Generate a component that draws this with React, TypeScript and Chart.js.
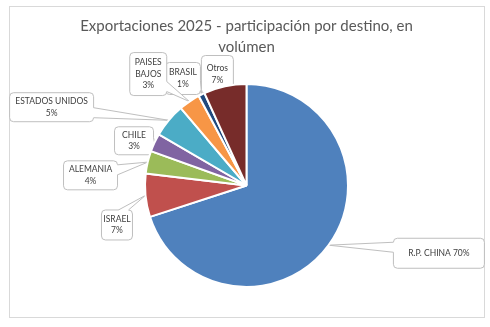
import { useEffect, useRef } from "react";
import { Chart, registerables } from "chart.js";

Chart.register(...registerables);

// ---- data ----
const categories = [
  "R.P. CHINA",
  "ISRAEL",
  "ALEMANIA",
  "CHILE",
  "ESTADOS UNIDOS",
  "PAISES BAJOS",
  "BRASIL",
  "Otros",
];
const shares = [70.0, 6.9, 3.6, 2.9, 5.4, 3.4, 1.0, 6.8];
// label text lines, {p} is replaced by the rounded share
const labelLines = [
  ["R.P. CHINA {p}"],
  ["ISRAEL", "{p}"],
  ["ALEMANIA", "{p}"],
  ["CHILE", "{p}"],
  ["ESTADOS UNIDOS", "{p}"],
  ["PAISES", "BAJOS", "{p}"],
  ["BRASIL", "{p}"],
  ["Otros", "{p}"],
];
const titleLines = ["Exportaciones 2025 - participación por destino, en", "volúmen"];

// ---- styles / layout ----
const sliceColors = [
  "#4F81BD",
  "#C0504D",
  "#9BBB59",
  "#8064A2",
  "#4BACC6",
  "#F79646",
  "#1F497D",
  "#772C2A",
];
// callout box offset from slice edge midpoint (dx, dy) and box size (w, h)
const labelLayout = [
  { dx: 110.3, dy: 8.1, w: 91, h: 30 },
  { dx: -28.5, dy: 29.6, w: 31, h: 30 },
  { dx: -57.2, dy: 13.2, w: 54, h: 29 },
  { dx: -20.5, dy: -1.8, w: 39, h: 28 },
  { dx: -117.1, dy: -13.1, w: 84, h: 29 },
  { dx: -41.2, dy: -27.5, w: 37, h: 43 },
  { dx: -18.6, dy: -16, w: 35, h: 32 },
  { dx: -7.6, dy: -11.8, w: 32, h: 38 },
];
const FONT = "Lato, 'Open Sans', sans-serif";

function roundRectPath(ctx: CanvasRenderingContext2D, x: number, y: number, w: number, h: number, r: number) {
  ctx.beginPath();
  ctx.moveTo(x + r, y);
  ctx.lineTo(x + w - r, y);
  ctx.quadraticCurveTo(x + w, y, x + w, y + r);
  ctx.lineTo(x + w, y + h - r);
  ctx.quadraticCurveTo(x + w, y + h, x + w - r, y + h);
  ctx.lineTo(x + r, y + h);
  ctx.quadraticCurveTo(x, y + h, x, y + h - r);
  ctx.lineTo(x, y + r);
  ctx.quadraticCurveTo(x, y, x + r, y);
  ctx.closePath();
}

const framePlugin = {
  id: "frame",
  beforeDraw(chart: any) {
    const ctx = chart.ctx as CanvasRenderingContext2D;
    ctx.save();
    ctx.fillStyle = "#FFFFFF";
    ctx.fillRect(0, 0, chart.width, chart.height);
    ctx.strokeStyle = "#D9D9D9";
    ctx.lineWidth = 1;
    ctx.strokeRect(9.5, 6.5, chart.width - 15, chart.height - 16);
    ctx.restore();
  },
};

const calloutPlugin = {
  id: "callouts",
  beforeDatasetsDraw(chart: any) {
    const ctx = chart.ctx as CanvasRenderingContext2D;
    const meta = chart.getDatasetMeta(0);
    const values = chart.data.datasets[0].data as number[];
    const n = meta.data.length;
    ctx.save();
    for (let i = n - 1; i >= 0; i--) {
      const arc = meta.data[i];
      const p = arc.getProps(["x", "y", "startAngle", "endAngle", "outerRadius"], true);
      const mid = (p.startAngle + p.endAngle) / 2;
      const ax = p.x + Math.cos(mid) * p.outerRadius;
      const ay = p.y + Math.sin(mid) * p.outerRadius;
      const L = labelLayout[i];
      const cx = ax + L.dx;
      const cy = ay + L.dy;
      const bx = cx - L.w / 2;
      const by = cy - L.h / 2;
      const r = 4;

      // box
      roundRectPath(ctx, bx, by, L.w, L.h, r);
      ctx.fillStyle = "#FFFFFF";
      ctx.fill();
      ctx.strokeStyle = "#BFBFBF";
      ctx.lineWidth = 1;
      ctx.stroke();

      // wedge pointer
      const dxOut = ax < bx ? bx - ax : ax > bx + L.w ? ax - (bx + L.w) : 0;
      const dyOut = ay < by ? by - ay : ay > by + L.h ? ay - (by + L.h) : 0;
      if (dxOut > 0 || dyOut > 0) {
        const hw = 5;
        let b1x: number, b1y: number, b2x: number, b2y: number, i1x: number, i1y: number, i2x: number, i2y: number;
        if (dxOut >= dyOut) {
          const ex = ax < bx ? bx : bx + L.w;
          const inward = ax < bx ? 1.5 : -1.5;
          const yc = Math.min(Math.max(ay, by + r + hw), by + L.h - r - hw);
          b1x = ex; b1y = yc - hw; b2x = ex; b2y = yc + hw;
          i1x = ex + inward; i1y = b1y; i2x = ex + inward; i2y = b2y;
        } else {
          const ey = ay < by ? by : by + L.h;
          const inward = ay < by ? 1.5 : -1.5;
          const xc = Math.min(Math.max(ax, bx + r + hw), bx + L.w - r - hw);
          b1x = xc - hw; b1y = ey; b2x = xc + hw; b2y = ey;
          i1x = b1x; i1y = ey + inward; i2x = b2x; i2y = ey + inward;
        }
        ctx.beginPath();
        ctx.moveTo(i1x, i1y);
        ctx.lineTo(b1x, b1y);
        ctx.lineTo(ax, ay);
        ctx.lineTo(b2x, b2y);
        ctx.lineTo(i2x, i2y);
        ctx.closePath();
        ctx.fillStyle = "#FFFFFF";
        ctx.fill();
        ctx.beginPath();
        ctx.moveTo(b1x, b1y);
        ctx.lineTo(ax, ay);
        ctx.lineTo(b2x, b2y);
        ctx.strokeStyle = "#BFBFBF";
        ctx.stroke();
      }

      // text
      const pct = Math.round(values[i]) + "%";
      const lines = labelLines[i].map((s) => s.replace("{p}", pct));
      const lh = 11.5;
      ctx.fillStyle = "#404040";
      ctx.font = `8.5px ${FONT}`;
      ctx.textAlign = "center";
      ctx.textBaseline = "middle";
      lines.forEach((t, k) => {
        ctx.fillText(t, cx, cy - ((lines.length - 1) * lh) / 2 + k * lh);
      });
    }
    ctx.restore();
  },
};

export default function App() {
  const ref = useRef<HTMLCanvasElement | null>(null);
  useEffect(() => {
    document.body.style.margin = "0";
    const canvas = ref.current;
    if (!canvas) return;
    const chart = new Chart(canvas, {
      type: "pie",
      data: {
        labels: categories,
        datasets: [
          {
            data: shares,
            backgroundColor: sliceColors,
            borderColor: "#FFFFFF",
            borderWidth: 2,
          },
        ],
      },
      options: {
        responsive: false,
        animation: false,
        layout: { padding: { top: 0, left: 20, right: 17, bottom: 39 } },
        plugins: {
          legend: { display: false },
          tooltip: { enabled: false },
          title: {
            display: true,
            text: titleLines,
            color: "#595959",
            font: { family: FONT, size: 15, weight: "normal", lineHeight: "21px" },
            padding: { top: 15.5, bottom: 25.5 },
          },
        },
      },
      plugins: [framePlugin, calloutPlugin],
    });
    return () => chart.destroy();
  }, []);
  return (
    <div style={{ width: 490, height: 327 }}>
      <canvas ref={ref} width={490} height={327} style={{ display: "block" }} />
    </div>
  );
}
